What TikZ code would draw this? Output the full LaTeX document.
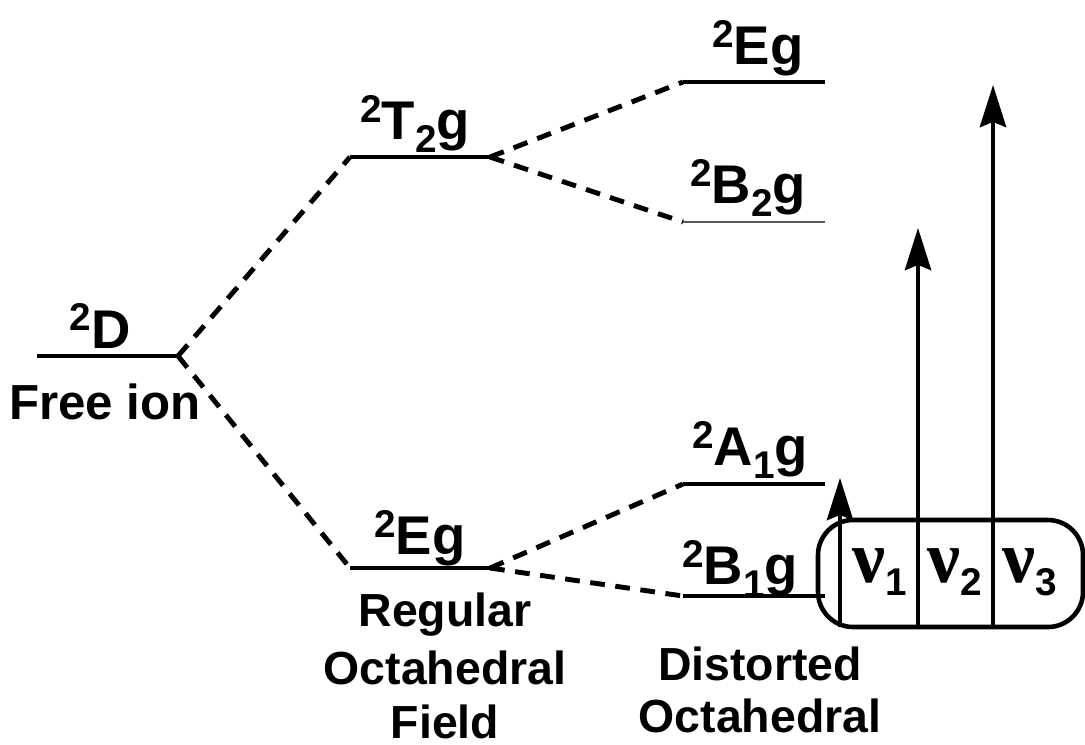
\documentclass[tikz,border=0pt]{standalone}
\usepackage{fontspec}
\setmainfont{Liberation Sans}
\newfontfamily\serifnu{Liberation Serif}
\usetikzlibrary{arrows.meta}
\newcommand{\sps}[1]{\raisebox{0.6ex}{\fontsize{11}{11}\selectfont #1}}
\newcommand{\sbs}[1]{\raisebox{-0.45ex}{\fontsize{11}{11}\selectfont #1}}
\newcommand{\nusym}{{\serifnu\bfseries\fontsize{21}{21}\selectfont ν}}
\begin{document}
\begin{tikzpicture}[x=0.01cm,y=-0.01cm,
  lvl/.style={line width=1pt},
  dsh/.style={line width=1.4pt,dash pattern=on 4.2pt off 3pt},
  lbl/.style={font=\bfseries\fontsize{15.5}{16}\selectfont,inner sep=0pt},
  txt/.style={font=\bfseries\fontsize{13.2}{15}\selectfont,inner sep=0pt,align=center},
  arr/.style={line width=1pt,-{Stealth[length=12pt,width=7.5pt,inset=1.5pt]}}]
\useasboundingbox (0,0) rectangle (1085,744);
% levels
\coordinate (Dl) at (37,356); \coordinate (Dr) at (178,356);
\coordinate (Tl) at (350,157); \coordinate (Tr) at (490,157);
\coordinate (El) at (350,568); \coordinate (Er) at (490,568);
\coordinate (E2l) at (683,82); \coordinate (E2r) at (825,82);
\coordinate (Bl) at (683,222); \coordinate (Br) at (825,222);
\coordinate (Al) at (683,484); \coordinate (Ar) at (825,484);
\coordinate (B1l) at (683,596); \coordinate (B1r) at (825,596);
\draw[lvl] (Dl) -- (Dr);
\draw[lvl] (Tl) -- (Tr);
\draw[lvl] (El) -- (Er);
\draw[lvl] (E2l) -- (E2r);
\draw[line width=0.5pt,gray!70!black] (Bl) -- (Br);
\draw[lvl] (Al) -- (Ar);
\draw[lvl] (B1l) -- (B1r);
% dashed connectors
\draw[dsh] (Dr) -- (Tl);
\draw[dsh] (Dr) -- (El);
\draw[dsh] (Tr) -- (E2l);
\draw[dsh] (Tr) -- (Bl);
\draw[dsh] (Er) -- (Al);
\draw[dsh] (Er) -- (B1l);
% labels
\node[lbl] (lD) at (100,326) {\sps{2}D};
\node[txt,font=\bfseries\fontsize{14}{15}\selectfont] (lfree) at (105,402) {Free ion};
\node[lbl] (lT) at (415,124) {\sps{2}T\sbs{2}g};
\node[lbl] (lE) at (420,538) {\sps{2}Eg};
\node[txt] (lreg1) at (445,615) {Regular};
\node[txt] (lreg2) at (445,668) {Octahedral};
\node[txt] (lreg3) at (445,722) {Field};
\node[lbl] (lE2) at (758,48) {\sps{2}Eg};
\node[lbl] (lB2) at (748,188) {\sps{2}B\sbs{2}g};
\node[lbl] (lA1) at (750,450) {\sps{2}A\sbs{1}g};
\node[lbl] (lB1) at (740,569) {\sps{2}B\sbs{1}g};
\node[txt] (ldist1) at (760,664) {Distorted};
\node[txt] (ldist2) at (760,716) {Octahedral};
% box
\draw[line width=1.3pt,rounded corners=10pt] (818,520) rectangle (1083,627);
\coordinate (a1b) at (840,627); \coordinate (a1t) at (840,478);
\coordinate (a2b) at (918,627); \coordinate (a2t) at (918,228);
\coordinate (a3b) at (993,627); \coordinate (a3t) at (993,85);
\draw[arr] (a1b) -- (a1t);
\draw[arr] (a2b) -- (a2t);
\draw[arr] (a3b) -- (a3t);
\node[lbl] (n1) at (880,572) {\nusym\sbs{1}};
\node[lbl] (n2) at (955,572) {\nusym\sbs{2}};
\node[lbl] (n3) at (1030,572) {\nusym\sbs{3}};
\end{tikzpicture}
\end{document}
